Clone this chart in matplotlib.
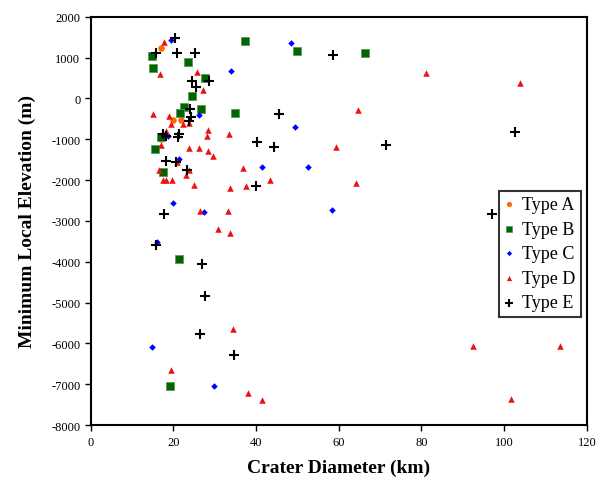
import matplotlib
matplotlib.use('Agg')
from matplotlib import pyplot as plt

plt.rcParams['font.family'] = ['Liberation Serif', 'DejaVu Serif']
plt.rcParams['axes.unicode_minus'] = False

# Type A
a_x = [16.9, 19.8, 21.8, 17.1]
a_y = [1230, -520, -520, -1000]

# Type B
b_x = [14.9, 15.1, 23.6, 27.6, 24.4, 26.7, 22.6, 21.6, 16.9, 15.5, 17.5,
       21.3, 19.1, 37.2, 50.0, 35.0, 66.4]
b_y = [1040, 750, 890, 500, 70, -250, -215, -350, -950, -1235, -1800,
       -3930, -7040, 1405, 1160, -350, 1120]

# Type C
c_x = [19.4, 26.2, 48.4, 33.9, 49.5, 41.4, 52.6, 27.4, 58.4, 29.7, 18.6,
       21.4, 19.9, 16.0, 14.9]
c_y = [1420, -400, 1355, 680, -695, -1675, -1680, -2785, -2740, -7050, -920,
       -1480, -2560, -3520, -6085]

# Type D
d_x = [17.6, 16.7, 25.6, 27.1, 15.1, 18.9, 19.3, 22.2, 23.8, 18.3, 28.4,
       28.2, 17.1, 23.8, 26.2, 28.4, 29.6, 16.6, 17.5, 18.1, 19.7, 23.8,
       23.1, 25.0, 26.5, 33.4, 59.3, 36.8, 43.4, 33.8, 37.5, 33.1, 30.8,
       33.6, 34.3, 38.1, 41.4, 19.4, 81.1, 103.9, 64.6, 64.2, 92.5, 113.4,
       101.6, 20.9]
d_y = [1395, 596, 660, 205, -380, -420, -625, -625, -610, -785, -770,
       -930, -1150, -1220, -1220, -1280, -1410, -1760, -1985, -1985, -1985,
       -1760, -1870, -2115, -2750, -865, -1200, -1700, -1985, -2200, -2150,
       -2760, -3195, -3290, -5645, -7210, -7385, -6640, 628, 375, -280,
       -2060, -6060, -6060, -7360, -1560]

# Type E
e_x = [20.4, 15.8, 20.9, 25.2, 24.5, 25.4, 28.7, 23.9, 24.3, 23.8, 17.5,
       18.3, 21.4, 21.1, 18.2, 20.6, 23.4, 17.7, 15.7, 26.8, 27.7, 26.5,
       34.7, 58.7, 45.6, 40.2, 44.4, 39.9, 71.5, 102.5, 97.1]
e_y = [1480, 1115, 1125, 1125, 425, 270, 430, -250, -450, -540, -860,
       -930, -870, -940, -1540, -1560, -1740, -2830, -3590, -4050, -4835,
       -5760, -6280, 1075, -385, -1060, -1200, -2140, -1150, -825, -2835]

fig = plt.figure(figsize=(5.97, 4.81), dpi=100)
ax = fig.add_axes([0.152, 0.114, 0.831, 0.849])

ax.scatter(a_x, a_y, marker='o', s=22, color='#ff6a00', linewidths=0, label='Type A', zorder=3)
ax.scatter(b_x, b_y, marker='s', s=30, color='#006400', edgecolors='#5a9a5a', linewidths=0.6,
           label='Type B', zorder=3)
ax.scatter(c_x, c_y, marker='D', s=11, color='#0000ff', linewidths=0, label='Type C', zorder=3)
ax.scatter(d_x, d_y, marker='^', s=22, color='#ee1111', linewidths=0, label='Type D', zorder=3)
ax.scatter(e_x, e_y, marker='+', s=48, color='black', linewidths=1.5, label='Type E', zorder=4)

ax.set_xlim(0, 120)
ax.set_ylim(-8000, 2000)
ax.set_xticks(range(0, 121, 20))
ax.set_yticks(range(-8000, 2001, 1000))
ax.tick_params(direction='out', length=4, width=1, labelsize=9)
for s in ax.spines.values():
    s.set_linewidth(1.5)

ax.set_xlabel('Crater Diameter (km)', fontsize=14, fontweight='bold', labelpad=8)
ax.set_ylabel('Minimum Local Elevation (m)', fontsize=14, fontweight='bold', labelpad=11)

leg = ax.legend(loc='center right', bbox_to_anchor=(0.988, 0.42), borderaxespad=0,
                fontsize=13, frameon=True, fancybox=False, edgecolor='black',
                handlelength=0.6, handletextpad=0.4, borderpad=0.3,
                labelspacing=0.42, markerscale=0.8)
leg.get_frame().set_linewidth(1.5)

fig.savefig('out.png', dpi=100)
